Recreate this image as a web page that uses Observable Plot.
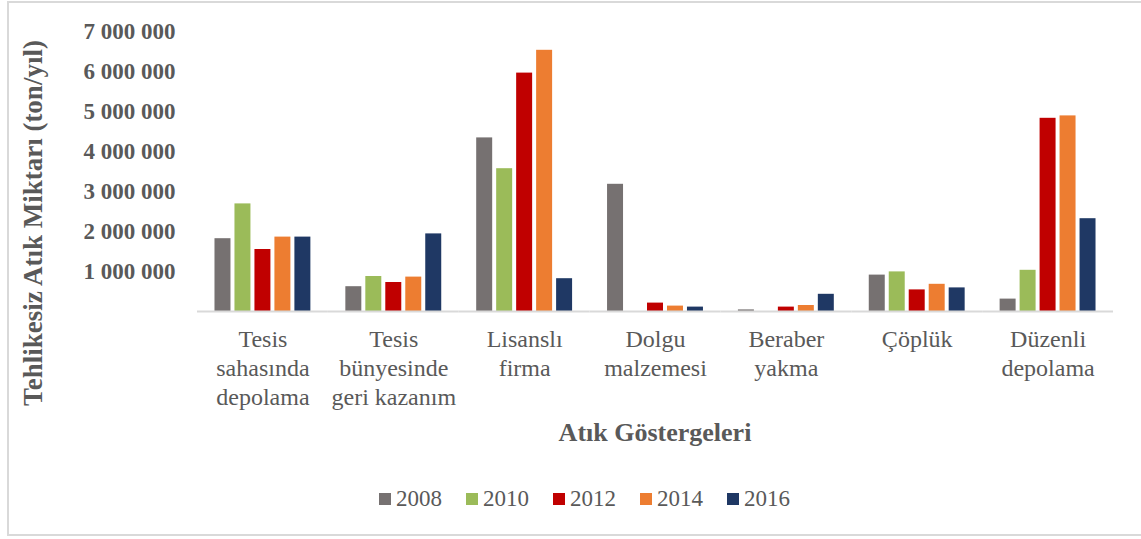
<!DOCTYPE html>
<html>
<head>
<meta charset="utf-8">
<script src="https://cdn.jsdelivr.net/npm/d3@7"></script>
<script src="https://cdn.jsdelivr.net/npm/@observablehq/plot@0.6"></script>
<style>
  html, body { margin: 0; padding: 0; background: #fff; }
  #wrap { position: relative; width: 1141px; height: 539px; overflow: hidden; font-family: "Liberation Serif", "Times New Roman", serif; color: #595959; }
  #border { position: absolute; left: 7px; top: 1px; width: 1150px; height: 535px; border: 2px solid #d9d9d9; box-sizing: border-box; }
  #chart { position: absolute; left: 0; top: 0; }
  #ytitle { position: absolute; left: 33px; top: 223px; transform: translate(-50%, -50%) rotate(-90deg); white-space: nowrap; font-weight: bold; font-size: 27px; font-family: "Liberation Serif", serif; }
  #xtitle { position: absolute; left: 655px; top: 433px; transform: translate(-50%, -50%); white-space: nowrap; font-weight: bold; font-size: 26px; font-family: "Liberation Serif", serif; }
  #legend { position: absolute; left: 379px; top: 499px; transform: translateY(-50%); display: flex; align-items: center; font-size: 23px; white-space: nowrap; font-family: "Liberation Serif", serif; }
  #legend .item { display: flex; align-items: center; margin-right: 24px; }
  #legend .sw { width: 12px; height: 12px; margin-right: 5px; }
</style>
</head>
<body>
<div id="wrap">
  <div id="border"></div>
  <div id="chart"></div>
  <div id="ytitle">Tehlikesiz Atık Miktarı (ton/yıl)</div>
  <div id="xtitle">Atık Göstergeleri</div>
  <div id="legend"></div>
</div>
<script>
const categories = ["Tesis\nsahasında\ndepolama", "Tesis\nbünyesinde\ngeri kazanım", "Lisanslı\nfirma", "Dolgu\nmalzemesi", "Beraber\nyakma", "Çöplük", "Düzenli\ndepolama"];
const years = ["2008", "2010", "2012", "2014", "2016"];
const colors = ["#767171", "#9BBB59", "#C00000", "#ED7D31", "#1F3864"];
const v2008 = [1820000, 620000, 4340000, 3180000, 40000, 910000, 310000];
const v2010 = [2690000, 875000, 3570000, 0, 0, 990000, 1030000];
const v2012 = [1550000, 725000, 5960000, 210000, 110000, 540000, 4830000];
const v2014 = [1860000, 860000, 6530000, 135000, 150000, 680000, 4890000];
const v2016 = [1860000, 1940000, 820000, 110000, 430000, 590000, 2320000];
const yTicks = [1000000, 2000000, 3000000, 4000000, 5000000, 6000000, 7000000];

const series = [v2008, v2010, v2012, v2014, v2016];
const data = [];
categories.forEach((c, i) => {
  years.forEach((y, j) => data.push({cat: c, year: y, value: series[j][i]}));
});

const fmt = d => d3.format(",")(d).replace(/,/g, " ");

const plot = Plot.plot({
  width: 1141,
  height: 470,
  marginLeft: 197,
  marginRight: 28,
  marginTop: 31,
  marginBottom: 159,
  style: {fontFamily: "'Liberation Serif', 'Times New Roman', serif", fontSize: "23px", color: "#595959", background: "transparent"},
  fx: {domain: categories, padding: 0, round: false, label: null},
  x: {domain: years, paddingInner: 0.2, paddingOuter: 0.875, round: false, axis: null},
  y: {domain: [0, 7000000], label: null},
  color: {domain: years, range: colors},
  marks: [
    Plot.axisY({ticks: yTicks, tickFormat: fmt, tickSize: 0, tickPadding: 22, fontWeight: "bold", label: null}),
    Plot.axisFx({anchor: "bottom", tickSize: 0, tickPadding: 15, lineHeight: 1.2, fontSize: 24, label: null}),
    Plot.barY(data, {fx: "cat", x: "year", y: "value", fill: "year"}),
    Plot.ruleY([0], {stroke: "#d9d9d9", strokeWidth: 2})
  ]
});
document.getElementById("chart").appendChild(plot);

const legend = d3.select("#legend");
years.forEach((y, j) => {
  const it = legend.append("div").attr("class", "item");
  it.append("div").attr("class", "sw").style("background", colors[j]);
  it.append("span").text(y);
});
</script>
</body>
</html>
